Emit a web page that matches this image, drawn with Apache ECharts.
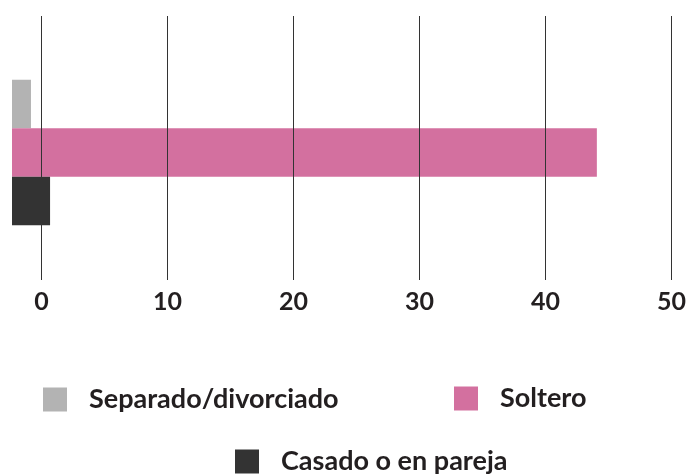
<!DOCTYPE html>
<html>
<head>
<meta charset="utf-8">
<style>html,body{margin:0;padding:0;background:#fff;}#c{width:689px;height:475px;}</style>
<script src="https://cdn.jsdelivr.net/npm/echarts@6/dist/echarts.min.js"></script>
</head>
<body>
<div id="c"></div>
<script>
// Data
const seriesNames = ['Separado/divorciado', 'Soltero', 'Casado o en pareja'];
const seriesValues = [-0.85, 43.9, 0.66];
const seriesColors = ['#b3b3b3', '#d3709f', '#333333'];
const categories = [''];
const axisMin = -2.35;
const axisMax = 50;

const chart = echarts.init(document.getElementById('c'));
const font = 'Lato, "Noto Sans", sans-serif';

const legendPos = [
  {left: 43, top: 386},
  {left: 454, top: 385},
  {left: 235, top: 448}
];

const option = {
  animation: false,
  grid: [
    {left: 12, right: 15, top: 16, height: 264},
    {left: 12, right: 15, top: 16, height: 273}
  ],
  xAxis: [
    {
      type: 'value', gridIndex: 0, min: axisMin, max: axisMax,
      minInterval: 10, maxInterval: 10, z: 5,
      axisLine: {show: false}, axisTick: {show: false},
      splitLine: {show: true, showMinLine: false, lineStyle: {color: '#333', width: 1}},
      axisLabel: {show: true, showMinLabel: false, margin: 9, color: '#231f20',
        fontFamily: font, fontWeight: 'bold', fontSize: 25}
    },
    {
      type: 'value', gridIndex: 1, min: axisMin, max: axisMax, startValue: axisMin,
      show: false, splitLine: {show: false}
    }
  ],
  yAxis: [
    {type: 'category', gridIndex: 0, data: categories, show: false},
    {type: 'category', gridIndex: 1, data: categories, show: false, inverse: true}
  ],
  legend: seriesNames.map((n, i) => ({
    data: [n], left: legendPos[i].left, top: legendPos[i].top, padding: 0,
    itemWidth: 24, itemHeight: 24, icon: 'rect', orient: 'horizontal',
    textStyle: {fontFamily: font, fontWeight: 'bold', fontSize: 27, color: '#231f20',
      padding: [0, 0, 0, 17], lineHeight: 24}
  })),
  series: seriesNames.map((n, i) => ({
    name: n, type: 'bar', xAxisIndex: 1, yAxisIndex: 1,
    data: [seriesValues[i]], barWidth: 48.5, barGap: '0%', z: 1,
    itemStyle: {color: seriesColors[i]},
    emphasis: {disabled: true}
  }))
};
chart.setOption(option);
</script>
</body>
</html>
